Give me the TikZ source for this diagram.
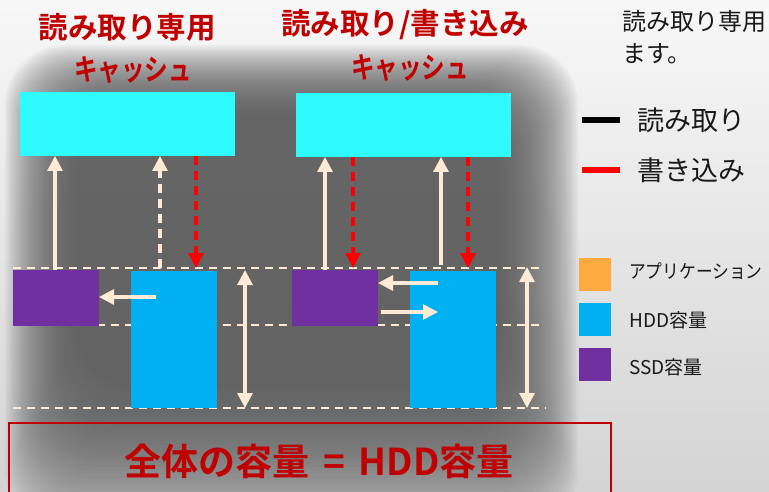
\documentclass[tikz,border=0pt]{standalone}
\usepackage{fontspec}
\setmainfont{Noto Sans CJK JP}
\newfontfamily\jp{Noto Sans CJK JP}
\newfontfamily\jpb{Noto Sans CJK JP Bold}
\usetikzlibrary{arrows.meta}
\definecolor{dred}{HTML}{C00000}
\definecolor{cyanc}{HTML}{2DFBFF}
\definecolor{hdd}{HTML}{00B0F0}
\definecolor{ssd}{HTML}{7030A0}
\definecolor{app}{HTML}{FFAA40}
\definecolor{cream}{HTML}{FFEAD5}
\definecolor{wred}{HTML}{FF0000}
\definecolor{darkbg}{HTML}{5A5A5A}
\tikzset{
  box/.style={draw=none, inner sep=0pt, outer sep=0pt, anchor=north west},
  rd/.style={draw=cream, line width=3.2pt, -{Triangle[width=15pt,length=15pt]}},
  rdd/.style={draw=cream, line width=3.2pt, {Triangle[width=15pt,length=15pt]}-{Triangle[width=15pt,length=15pt]}},
  wr/.style={draw=wred, line width=3.2pt, dash pattern=on 9pt off 6pt, -{Triangle[width=15pt,length=15pt]}},
  guide/.style={draw=cream, line width=2.4pt, dash pattern=on 8pt off 6pt},
  title/.style={text=dred, inner sep=0pt, font=\jpb\fontsize{29.5pt}{32pt}\selectfont},
  legtext/.style={anchor=west, inner sep=0pt, text=black!90, font=\jp\fontsize{19pt}{22pt}\selectfont},
  bigleg/.style={anchor=west, inner sep=0pt, text=black!90, font=\jp\fontsize{27pt}{30pt}\selectfont},
  swatch/.style={box, minimum width=32pt, minimum height=33pt}
}
\begin{document}
\begin{tikzpicture}[x=1pt,y=-1pt]
\useasboundingbox (0,0) rectangle (769,492);
\clip (0,0) rectangle (769,492);
% background
\fill[top color=white!97!black, bottom color=black!17] (0,0) rectangle (769,492);
\foreach \i in {0,...,39}{
  \pgfmathsetmacro{\t}{\i/39}
  \fill[darkbg, fill opacity=0.052, rounded corners=60pt]
    ({5+70*\t},{45+70*\t}) rectangle ({578-80*\t},{530-145*\t});
}
% titles
\node[title] (t1a) at (127,27) {読み取り専用};
\node[title] (t1b) at (133,70) {\scalebox{0.8}[1]{キャッシュ}};
\node[title] (t2a) at (405,25) {読み取り/書き込み};
\node[title] (t2b) at (410,68) {\scalebox{0.8}[1]{キャッシュ}};
% top-right text
\node[legtext, font=\jp\fontsize{24pt}{26pt}\selectfont] (note1) at (622,21) {読み取り専用};
\node[legtext, font=\jp\fontsize{24pt}{26pt}\selectfont] (note2) at (622,54) {ます。};
% legend lines
\fill[black] (582,117) rectangle (620,123);
\fill[wred] (582,167) rectangle (620,173);
\node[bigleg] (lr) at (637,120) {読み取り};
\node[bigleg] (lw) at (637,170) {書き込み};
% legend swatches
\node[swatch, fill=app] (sa) at (579,258) {};
\node[swatch, fill=hdd] (sh) at (579,303) {};
\node[swatch, fill=ssd] (ss) at (579,348) {};
\node[legtext] (la) at (629,271) {\scalebox{0.88}[1]{アプリケーション}};
\node[legtext] (lh) at (629,320) {HDD容量};
\node[legtext] (ls) at (629,367) {SSD容量};
% guide lines
\coordinate (g1a) at (13,268); \coordinate (g1b) at (540,268);
\coordinate (g2a) at (13,325); \coordinate (g2b) at (540,325);
\coordinate (g3a) at (13,408); \coordinate (g3b) at (546,408);
\draw[guide] (g1a) -- (g1b);
\draw[guide] (g2a) -- (g2b);
\draw[guide] (g3a) -- (g3b);
% boxes
\node[box, fill=cyanc, minimum width=215pt, minimum height=64pt] (c1) at (20,92) {};
\node[box, fill=cyanc, minimum width=215pt, minimum height=64pt] (c2) at (296,93) {};
\node[box, fill=ssd, minimum width=86pt, minimum height=56pt] (p1) at (13,270) {};
\node[box, fill=hdd, minimum width=86pt, minimum height=137pt] (b1) at (131,271) {};
\node[box, fill=ssd, minimum width=86pt, minimum height=56pt] (p2) at (292,270) {};
\node[box, fill=hdd, minimum width=86pt, minimum height=137pt] (b2) at (410,271) {};
% left diagram connectors
\coordinate (u1) at (55,270);
\draw[rd] (u1) -- (u1 |- c1.south);
\coordinate (d1) at (160,268);
\draw[rd, dash pattern=on 9pt off 6pt] (d1) -- (d1 |- c1.south);
\coordinate (w1) at (196,268);
\draw[wr] (w1 |- c1.south) -- (w1);
\coordinate (h1) at (156,297);
\draw[rd] (h1) -- (h1 -| p1.east);
\coordinate (v1a) at (245,270); \coordinate (v1b) at (245,408);
\draw[rdd] (v1a) -- (v1b);
% right diagram connectors
\coordinate (u2) at (325,270);
\draw[rd] (u2) -- (u2 |- c2.south);
\coordinate (w2) at (353,268);
\draw[wr] (w2 |- c2.south) -- (w2);
\coordinate (u3) at (441,265);
\draw[rd] (u3) -- (u3 |- c2.south);
\coordinate (w3) at (468,268);
\draw[wr] (w3 |- c2.south) -- (w3);
\coordinate (h2) at (438,283);
\draw[rd] (h2) -- (h2 -| p2.east);
\coordinate (h3) at (381,312);
\draw[rd] (h3) -- (438,312);
\coordinate (v2a) at (527,267); \coordinate (v2b) at (527,408);
\draw[rdd] (v2a) -- (v2b);
% total box
\node[box, draw=dred, line width=1.5pt, minimum width=602pt, minimum height=90pt] (tot) at (9,423) {};
\node[text=dred, inner sep=0pt, font=\jpb\fontsize{37pt}{40pt}\selectfont] (tt) at (319,461) {全体の容量\hspace{14pt}=\hspace{14pt}HDD容量};
\end{tikzpicture}
\end{document}
